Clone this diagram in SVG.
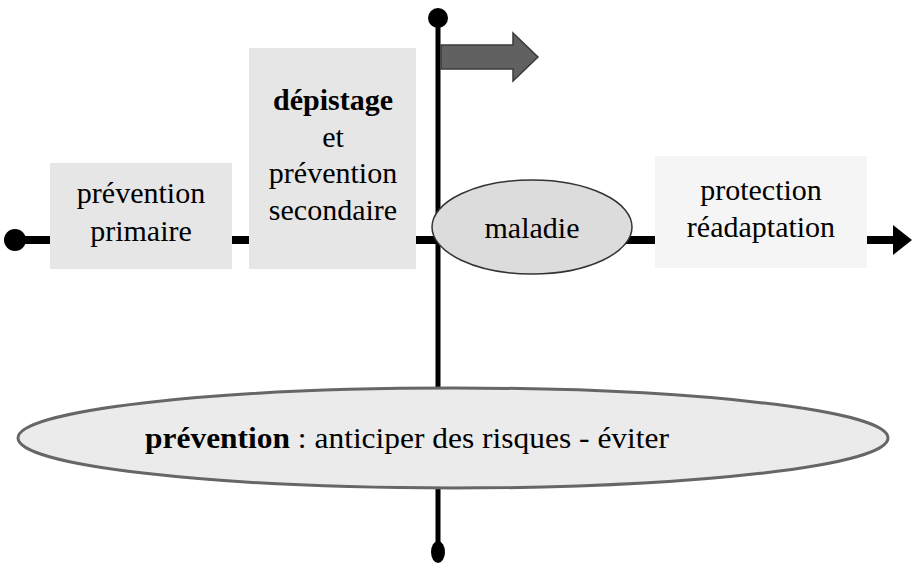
<svg xmlns="http://www.w3.org/2000/svg" width="917" height="564" viewBox="0 0 917 564">
<rect width="917" height="564" fill="#fff"/>
<g id="connectors">
<line x1="15" y1="240" x2="896" y2="240" stroke="#000" stroke-width="8"/>
<circle cx="15" cy="240" r="11" fill="#000"/>
<polygon points="893,225 912,240 893,255" fill="#000"/>
<line x1="438" y1="18" x2="438" y2="552" stroke="#000" stroke-width="5"/>
<circle cx="438" cy="18" r="10" fill="#000"/>
<ellipse cx="438" cy="552" rx="7" ry="11" fill="#000"/>
<polygon points="441,45 513,45 513,33 538,57 513,81 513,69 441,69" fill="#616161" stroke="#3a3a3a" stroke-width="1.5"/>
</g>
<g id="primaire">
<rect fill="#e6e6e6" x="50" y="163" width="182" height="106"/>
<text x="141" y="203" font-family="Times New Roman, Liberation Serif, serif" font-size="30" text-anchor="middle">prévention</text>
<text x="141" y="241" font-family="Times New Roman, Liberation Serif, serif" font-size="30" text-anchor="middle">primaire</text>
</g>
<g id="secondaire">
<rect fill="#e6e6e6" x="249" y="48" width="167" height="221"/>
<text x="333" y="110" font-family="Times New Roman, Liberation Serif, serif" font-size="30" text-anchor="middle" font-weight="bold">dépistage</text>
<text x="333" y="147" font-family="Times New Roman, Liberation Serif, serif" font-size="30" text-anchor="middle">et</text>
<text x="333" y="183" font-family="Times New Roman, Liberation Serif, serif" font-size="30" text-anchor="middle">prévention</text>
<text x="333" y="220" font-family="Times New Roman, Liberation Serif, serif" font-size="30" text-anchor="middle">secondaire</text>
</g>
<g id="maladie">
<ellipse cx="532" cy="227" rx="100" ry="47" fill="#dcdcdc" stroke="#333" stroke-width="1.5"/>
<text x="532" y="238" font-family="Times New Roman, Liberation Serif, serif" font-size="30" text-anchor="middle">maladie</text>
</g>
<g id="protection">
<rect x="655" y="156" width="212" height="112" fill="#f5f5f5"/>
<text x="761" y="200" font-family="Times New Roman, Liberation Serif, serif" font-size="30" text-anchor="middle">protection</text>
<text x="761" y="237" font-family="Times New Roman, Liberation Serif, serif" font-size="30" text-anchor="middle">réadaptation</text>
</g>
<g id="prevention">
<ellipse cx="453" cy="438" rx="435" ry="50" fill="#ebebeb" stroke="#666" stroke-width="3"/>
<text x="145" y="448" font-family="Times New Roman, Liberation Serif, serif" font-size="30" textLength="524" lengthAdjust="spacingAndGlyphs"><tspan font-weight="bold">prévention</tspan> : anticiper des risques - éviter</text>
</g>
</svg>
